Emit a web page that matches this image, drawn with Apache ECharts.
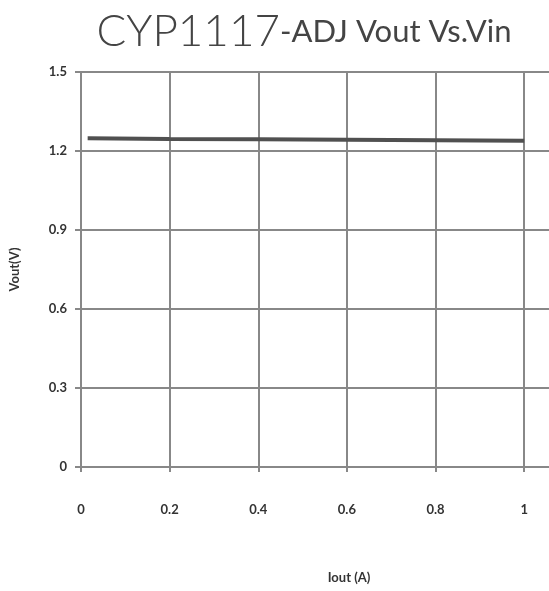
<!DOCTYPE html>
<html><head><meta charset="utf-8">
<script src="https://cdn.jsdelivr.net/npm/echarts@6/dist/echarts.min.js"></script>
<style>html,body{margin:0;padding:0;background:#fff}#c{width:549px;height:591px}</style>
</head><body><div id="c"></div>
<script>
var iout = [0.015, 0.2, 0.4, 0.6, 0.8, 1.0];
var vout = [1.248, 1.246, 1.245, 1.243, 1.241, 1.239];
var xTicks = [0, 0.2, 0.4, 0.6, 0.8, 1];
var yTicks = [0, 0.3, 0.6, 0.9, 1.2, 1.5];

var chart = echarts.init(document.getElementById('c'));
var lblFont = 'Lato';
chart.setOption({
  animation: false,
  title: {
    text: '{a|CYP1117}{b|-ADJ Vout Vs.Vin}',
    left: 299, textAlign: 'center', top: 5,
    textStyle: {
      rich: {
        a: {fontFamily: 'Lato', fontWeight: 300, fontSize: 44, color: '#444'},
        b: {fontFamily: 'Lato', fontWeight: 'normal', fontSize: 31, color: '#444'}
      }
    }
  },
  grid: {left: 79, right: 0, top: 72, bottom: 124, containLabel: false},
  xAxis: {
    type: 'value', min: 0, max: 1.056, interval: 0.2,
    name: 'Iout (A)', nameLocation: 'middle', nameGap: 104,
    nameTextStyle: {fontFamily: lblFont, fontWeight: 'bold', fontSize: 13, color: '#333', padding: [0,0,0,68]},
    axisLine: {show: true, lineStyle: {color: '#888', width: 2}},
    axisTick: {show: true, length: 5, lineStyle: {color: '#888', width: 2}},
    axisLabel: {
      margin: 36, fontFamily: lblFont, fontWeight: 'bold', fontSize: 13, color: '#333',
      showMaxLabel: false,
      formatter: function(v){ var r = Math.round(v*10)/10; return xTicks.indexOf(r) >= 0 ? String(r) : ''; }
    },
    splitLine: {show: true, showMaxLine: false, lineStyle: {color: '#888', width: 2}}
  },
  yAxis: {
    type: 'value', min: 0, max: 1.5, interval: 0.3,
    name: 'Vout(V)', nameLocation: 'middle', nameGap: 60,
    nameTextStyle: {fontFamily: lblFont, fontWeight: 'bold', fontSize: 13, color: '#333'},
    axisLine: {show: true, lineStyle: {color: '#888', width: 2}},
    axisTick: {show: true, length: 6, lineStyle: {color: '#888', width: 2}},
    axisLabel: {
      margin: 14, fontFamily: lblFont, fontWeight: 'bold', fontSize: 13, color: '#333',
      formatter: function(v){ return v === 0 ? '0' : v.toFixed(1); }
    },
    splitLine: {show: true, lineStyle: {color: '#888', width: 2}}
  },
  series: [{
    type: 'line',
    data: iout.map(function(x, i){ return [x, vout[i]]; }),
    symbol: 'none',
    lineStyle: {color: '#505050', width: 4}
  }]
});
</script></body></html>
